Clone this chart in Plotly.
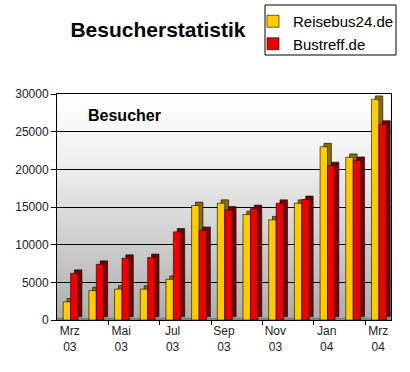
import base64
import plotly.graph_objects as go

months = ["Mrz 03", "Apr 03", "Mai 03", "Jun 03", "Jul 03", "Aug 03", "Sep 03",
          "Okt 03", "Nov 03", "Dez 03", "Jan 04", "Feb 04", "Mrz 04"]
reisebus = [2400, 3900, 4100, 4100, 5400, 15200, 15500, 14000, 13300, 15500, 23000, 21600, 29300]
bustreff = [6200, 7400, 8200, 8300, 11700, 11900, 14600, 14800, 15500, 16000, 20500, 21200, 26000]
tick_labels = ["Mrz<br>03", "Mai<br>03", "Jul<br>03", "Sep<br>03", "Nov<br>03", "Jan<br>04", "Mrz<br>04"]

x = list(range(len(months)))
tickvals = x[::2]
FONT = "Arial, Liberation Sans, sans-serif"

L, R, T, B = 57, 391, 94, 320
def px(v):
    return (v - L) / (R - L)
def py(v):
    return (B - v) / (B - T)

depth_x = 0.15
depth_y = 450
w = 0.29

svg = ("<svg xmlns='http://www.w3.org/2000/svg' width='100' height='100' preserveAspectRatio='none'>"
       "<defs><linearGradient id='g' x1='0' y1='0' x2='0' y2='1'>"
       "<stop offset='0' stop-color='#ffffff'/><stop offset='0.3' stop-color='#f0f0f0'/>"
       "<stop offset='1' stop-color='#adadad'/></linearGradient></defs>"
       "<rect width='100' height='100' fill='url(#g)'/></svg>")
bg_src = "data:image/svg+xml;base64," + base64.b64encode(svg.encode()).decode()

fig = go.Figure()
fig.add_trace(go.Bar(x=x, y=reisebus, base=depth_y, offset=-0.26 + depth_x, width=w,
                     marker=dict(color="#8a6d00", line=dict(color="#000000", width=0.6)),
                     showlegend=False, hoverinfo="skip"))
fig.add_trace(go.Bar(x=x, y=reisebus, name="Reisebus24.de", offset=-0.26, width=w,
                     marker=dict(color="#FFCC00", line=dict(color="#000000", width=0.6))))
fig.add_trace(go.Bar(x=x, y=bustreff, base=depth_y, offset=0.03 + depth_x, width=w,
                     marker=dict(color="#7a0000", line=dict(color="#000000", width=0.6)),
                     showlegend=False, hoverinfo="skip"))
fig.add_trace(go.Bar(x=x, y=bustreff, name="Bustreff.de", offset=0.03, width=w,
                     marker=dict(color="#EE0000", line=dict(color="#000000", width=0.6))))

fig.update_layout(
    width=410, height=372,
    margin=dict(l=L, r=410 - R, t=T, b=372 - B, autoexpand=False),
    barmode="overlay",
    paper_bgcolor="white",
    plot_bgcolor="rgba(0,0,0,0)",
    font=dict(family=FONT, size=12, color="#222222"),
    title=dict(text="<b>Besucherstatistik</b>", xref="container", yref="container",
               x=158 / 410, xanchor="center", y=1 - 30 / 372, yanchor="middle",
               font=dict(size=21, color="#000000", family=FONT)),
    legend=dict(x=px(253), y=py(5), xanchor="left", yanchor="top",
                bgcolor="rgba(0,0,0,0)", borderwidth=0,
                font=dict(size=15, color="#000000", family=FONT),
                itemwidth=30, tracegroupgap=0),
    xaxis=dict(range=[-0.5, 12.5], tickvals=tickvals, ticktext=tick_labels,
               ticks="", showgrid=False, zeroline=False,
               showline=True, linecolor="#000000", linewidth=1, mirror=True,
               tickfont=dict(size=12, color="#222222"),
               minor=dict(tickvals=[1.5, 3.5, 5.5, 7.5, 9.5, 11.5], ticks="outside",
                          ticklen=4, tickcolor="#000000", showgrid=False)),
    yaxis=dict(range=[0, 30000], dtick=5000, tickformat="d", ticks="outside", ticklen=5,
               tickcolor="#000000", showgrid=True, gridcolor="#000000", gridwidth=1,
               zeroline=False, showline=True, linecolor="#000000", linewidth=1,
               mirror=True, tickfont=dict(size=12, color="#222222")),
    images=[dict(source=bg_src, xref="paper", yref="paper", x=0, y=1, sizex=1, sizey=1,
                 sizing="stretch", layer="below", xanchor="left", yanchor="top")],
    shapes=[dict(type="rect", xref="paper", yref="y", x0=0, x1=1, y0=0, y1=300,
                 fillcolor="#808080", line=dict(width=0), layer="below"),
            dict(type="rect", xref="paper", yref="paper", x0=px(265), x1=px(396),
                 y0=py(55), y1=py(5), line=dict(color="#000000", width=1),
                 fillcolor="rgba(0,0,0,0)", layer="above")],
    annotations=[dict(text="<b>Besucher</b>", xref="paper", yref="paper",
                      x=px(86), y=py(115), xanchor="left",
                      yanchor="middle", showarrow=False,
                      font=dict(size=16, color="#000000", family=FONT))],
)

fig.write_html("out.html", config={"displayModeBar": False},
               post_script="document.body.style.margin='0';")
